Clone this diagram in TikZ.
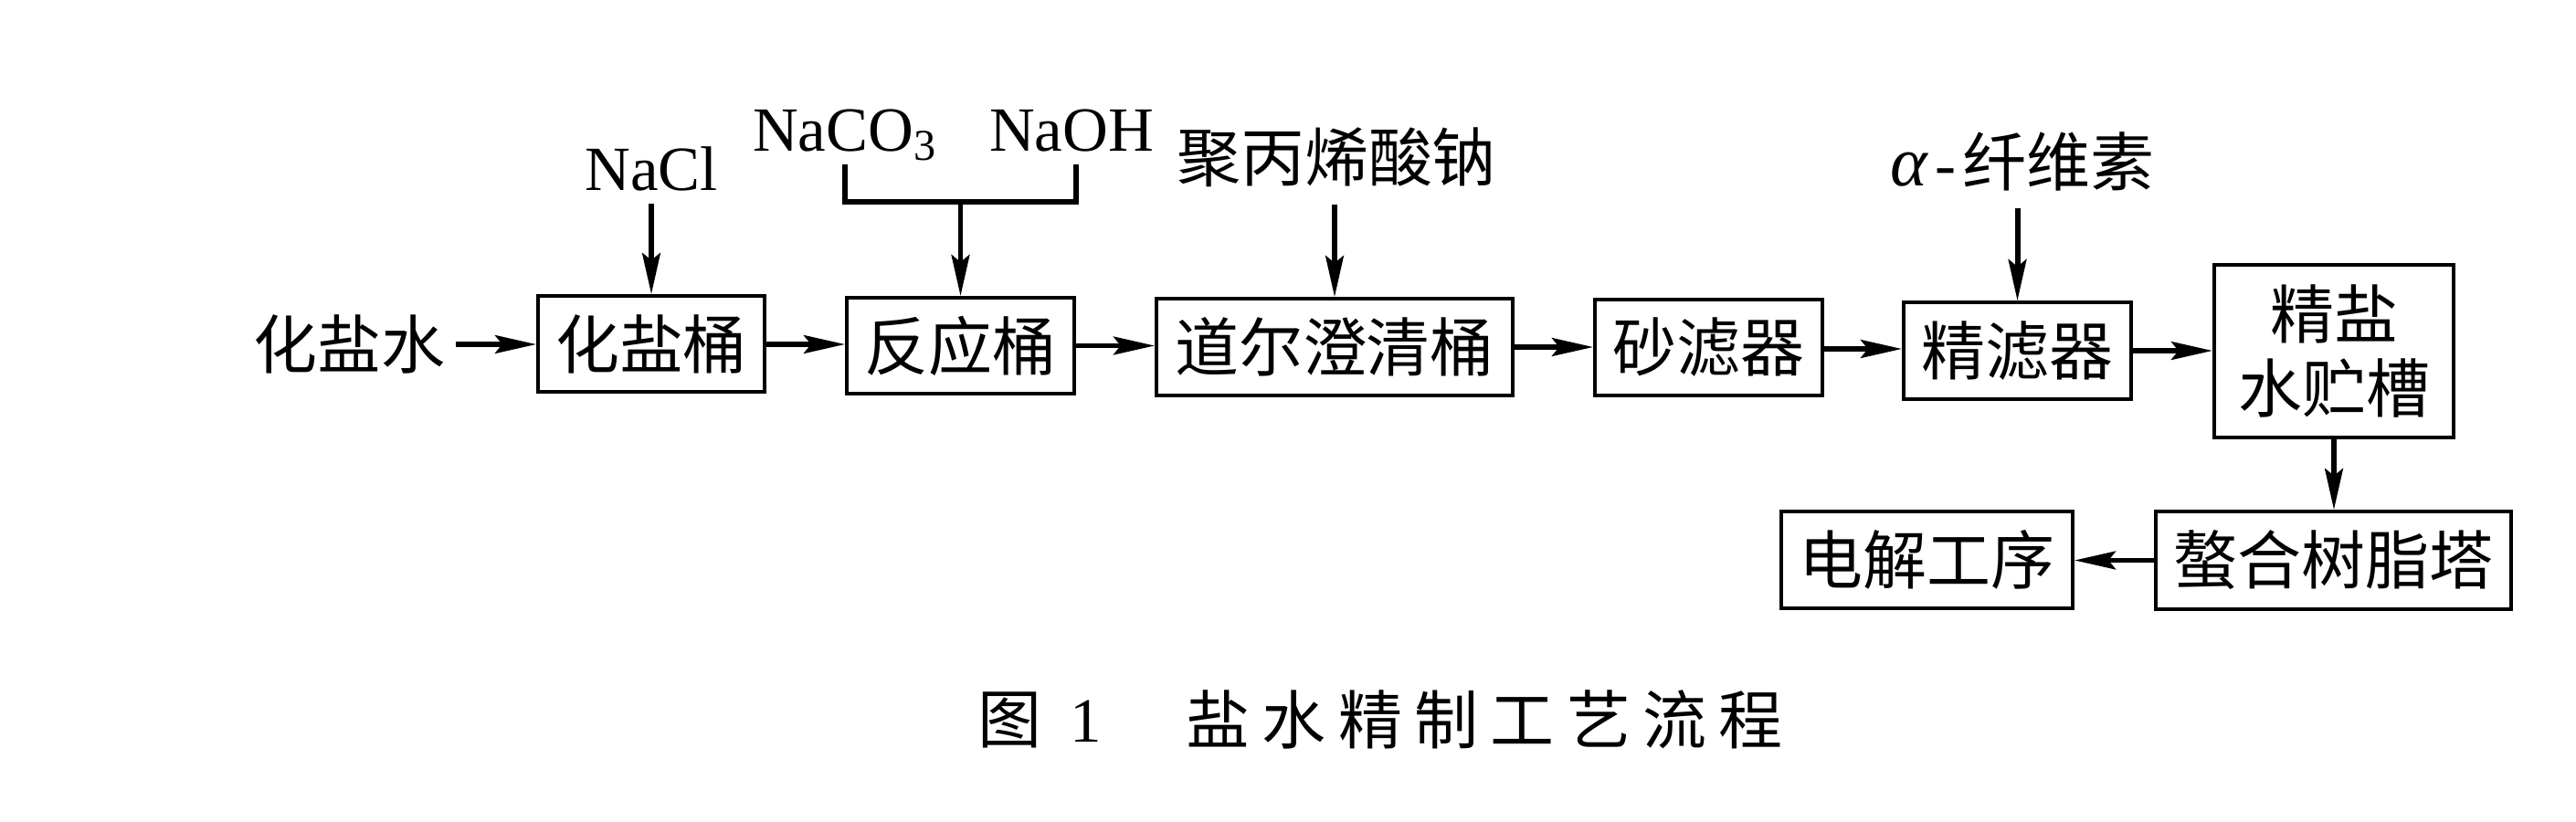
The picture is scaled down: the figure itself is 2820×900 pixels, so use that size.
\documentclass[tikz,border=0pt]{standalone}
\usepackage{fontspec}
\setmainfont{Liberation Serif}
\newfontfamily\cjk{Noto Sans CJK SC}
\newfontfamily\capcjk[LetterSpace=19]{Noto Sans CJK SC}
\usetikzlibrary{arrows.meta}
\tikzset{
  every node/.style={inner sep=0pt,font=\fontsize{19.9}{23.3}\selectfont\cjk,text=black},
  box/.style={draw=black,line width=1pt,align=center},
  latin/.style={font=\fontsize{19.6}{23.3}\selectfont,text height=.47cm,text depth=0pt,inner ysep=.14cm},
  flow/.style={line width=1.7pt,-{Stealth[length=12.8pt,width=5.6pt,inset=2.2pt]}},
  bracket/.style={line width=1.7pt,line cap=butt,line join=miter},
}
\begin{document}
\begin{tikzpicture}[x=.01cm,y=-.01cm]
\useasboundingbox (0,0) rectangle (2820,900);
% process boxes
\node[box,minimum width=2.48cm,minimum height=1.05cm] (hy) at (713,376.5) {化盐桶};
\node[box,minimum width=2.49cm,minimum height=1.05cm] (fy) at (1051.5,378.5) {反应桶};
\node[box,minimum width=3.90cm,minimum height=1.06cm] (de) at (1461,380) {道尔澄清桶};
\node[box,minimum width=2.49cm,minimum height=1.05cm] (sl) at (1870.5,380.5) {砂滤器};
\node[box,minimum width=2.49cm,minimum height=1.06cm] (jl) at (2208.5,384) {精滤器};
\node[box,minimum width=2.62cm,minimum height=1.89cm] (zc) at (2555,384.5) {精盐\\水贮槽};
\node[box,minimum width=3.89cm,minimum height=1.07cm] (zh) at (2554.5,613.5) {螯合树脂塔};
\node[box,minimum width=3.19cm,minimum height=1.06cm] (dj) at (2109.5,613) {电解工序};
% input labels
\node[minimum width=2.31cm] (hs) at (382.5,377) {化盐水};
\node[latin] (nacl) at (713,184.5) {NaCl};
\node[latin] (naco) at (925,141.5) {NaCO\textsubscript{3}};
\node[latin] (naoh) at (1173,141.5) {NaOH};
\node[minimum height=1.02cm] (jb) at (1463,172) {聚丙烯酸钠};
\node[minimum height=1cm] (xw) at (2214,177) {{\fontsize{22}{23.3}\selectfont\rmfamily\itshape α}\hspace{2.5pt}{\fontsize{19.6}{23.3}\selectfont\rmfamily -}\hspace{2pt}纤维素};
\coordinate (brk) at (1051.5,221);
% connectors
\draw[flow] (hs.east) -- (hs.east -| hy.west);
\draw[flow] (hy.east |- hs.east) -- (hs.east -| fy.west);
\draw[flow] (fy.east) -- (fy.east -| de.west);
\draw[flow] (de.east) -- (de.east -| sl.west);
\draw[flow] ([yshift=-.015cm]sl.east) -- ([yshift=-.015cm]sl.east -| jl.west);
\draw[flow] (jl.east) -- (jl.east -| zc.west);
\draw[flow] (zh.west) -- (zh.west -| dj.east);
\draw[flow] (zc.south) -- (zc.south |- zh.north);
\draw[flow] (nacl.south -| hy.north) -- (hy.north);
\draw[flow] (jb.south -| de.north) -- (de.north);
\draw[flow] (xw.south -| jl.north) -- (jl.north);
\draw[bracket] (naco.south -| fy.west) |- (brk) -| (naoh.south -| fy.east);
\draw[flow] (brk) -- (fy.north);
% caption
\node[font=\fontsize{19.9}{23.3}\selectfont\capcjk,anchor=west] (cap2) at (1298,788) {盐水精制工艺流程};
\node[font=\fontsize{19.9}{23.3}\selectfont\cjk] (cap0) at (1105,788) {图};
\node[font=\fontsize{19.6}{23.3}\selectfont] (cap1) at (1189,790) {1};
\end{tikzpicture}
\end{document}
